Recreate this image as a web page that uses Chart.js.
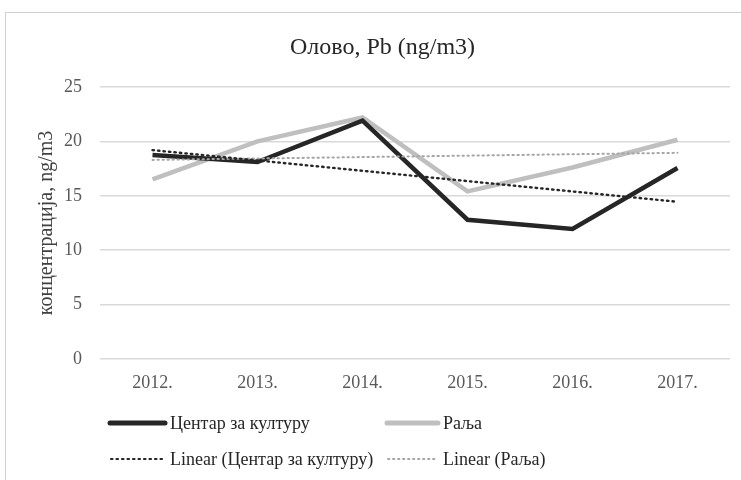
<!DOCTYPE html>
<html>
<head>
<meta charset="utf-8">
<script src="https://cdn.jsdelivr.net/npm/chart.js@4"></script>
<style>
  html, body { margin: 0; padding: 0; background: #fff; overflow: hidden; }
  #wrap { position: relative; width: 741px; height: 480px; }
  #frame { position: absolute; left: 5px; top: 12px; width: 800px; height: 500px; border: 1px solid #d0d0d0; box-sizing: border-box; }
  canvas { position: absolute; left: 0; top: 0; }
</style>
</head>
<body>
<div id="wrap">
  <div id="frame"></div>
  <canvas id="leadChart" width="741" height="480"></canvas>
</div>
<script>
// data
const years = ['2012.', '2013.', '2014.', '2015.', '2016.', '2017.'];
const centarValues = [18.75, 18.1, 21.9, 12.8, 11.95, 17.55];
const raljaValues = [16.5, 20.0, 22.2, 15.4, 17.6, 20.15];
// trend lines: end points, joined straight across
const centarTrend = [19.2, null, null, null, null, 14.45];
const raljaTrend = [18.3, null, null, null, null, 18.95];
const yTicks = [0, 5, 10, 15, 20, 25];

const serif = "'Liberation Serif', 'Times New Roman', serif";

// legend in two columns, drawn by hand like the original
const legendItems = [
    { text: 'Центар за културу', color: '#262626', width: 5, dash: [], x: 110, y: 423, len: 55 },
    { text: 'Раља', color: '#bfbfbf', width: 5, dash: [], x: 387, y: 423, len: 51 },
    { text: 'Linear (Центар за културу)', color: '#262626', width: 2.2, dash: [1.5, 4], x: 111, y: 459, len: 52 },
    { text: 'Linear (Раља)', color: '#a6a6a6', width: 1.8, dash: [1.4, 3.6], x: 388, y: 459, len: 49 }
];

const handLegend = {
    id: 'handLegend',
    afterDraw(chart) {
        const ctx = chart.ctx;
        ctx.save();
        legendItems.forEach((item, i) => {
            ctx.beginPath();
            ctx.strokeStyle = item.color;
            ctx.lineWidth = item.width;
            ctx.lineCap = 'round';
            ctx.setLineDash(item.dash);
            ctx.moveTo(item.x, item.y);
            ctx.lineTo(item.x + item.len, item.y);
            ctx.stroke();
            ctx.setLineDash([]);
            ctx.fillStyle = '#262626';
            ctx.font = '18px ' + serif;
            ctx.textBaseline = 'middle';
            // text column starts at the same x in each column
            const textX = i % 2 === 0 ? 170 : 443;
            ctx.fillText(item.text, textX, item.y + 1);
        });
        ctx.restore();
    }
};

new Chart(document.getElementById('leadChart'), {
    type: 'line',
    data: {
        labels: years,
        datasets: [
            {
                label: 'Linear (Центар за културу)',
                data: centarTrend,
                borderColor: '#262626',
                borderWidth: 2.4,
                borderDash: [1.5, 4],
                borderCapStyle: 'round',
                spanGaps: true,
                pointRadius: 0,
                order: 1
            },
            {
                label: 'Linear (Раља)',
                data: raljaTrend,
                borderColor: '#a6a6a6',
                borderWidth: 2,
                borderDash: [1.4, 3.6],
                borderCapStyle: 'round',
                spanGaps: true,
                pointRadius: 0,
                order: 2
            },
            {
                label: 'Центар за културу',
                data: centarValues,
                borderColor: '#262626',
                borderWidth: 4.5,
                pointRadius: 0,
                tension: 0,
                order: 3
            },
            {
                label: 'Раља',
                data: raljaValues,
                borderColor: '#bfbfbf',
                borderWidth: 4.5,
                pointRadius: 0,
                tension: 0,
                order: 4
            }
        ]
    },
    options: {
        responsive: false,
        animation: false,
        layout: { padding: { left: 35, right: 11, top: 0, bottom: 0 } },
        plugins: {
            legend: { display: false },
            tooltip: { enabled: false },
            title: {
                display: true,
                text: 'Олово, Pb (ng/m3)',
                color: '#262626',
                font: { family: serif, size: 24, weight: 'normal' },
                padding: { top: 33.6, bottom: 24.6 }
            }
        },
        scales: {
            x: {
                offset: true,
                grid: { display: false, drawTicks: false },
                border: { display: false },
                ticks: {
                    color: '#595959',
                    padding: 13,
                    font: { family: serif, size: 18 }
                },
                afterFit: (scale) => { scale.height = 121; }
            },
            y: {
                min: 0,
                max: 25,
                afterBuildTicks: (scale) => { scale.ticks = yTicks.map(v => ({ value: v })); },
                grid: { color: '#d9d9d9', lineWidth: 1.5, drawTicks: false },
                border: { display: false },
                ticks: {
                    color: '#595959',
                    padding: 18,
                    font: { family: serif, size: 18 }
                },
                title: {
                    display: true,
                    text: 'концентрација, ng/m3',
                    color: '#404040',
                    font: { family: serif, size: 20 },
                    padding: 0
                },
                afterFit: (scale) => { scale.width = 65; }
            }
        }
    },
    plugins: [handLegend]
});
</script>
</body>
</html>
